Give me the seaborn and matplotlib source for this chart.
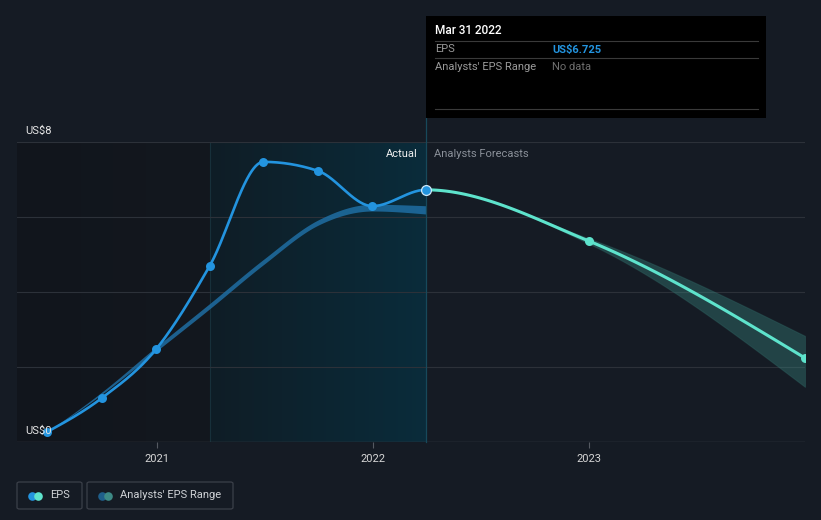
import numpy as np
import pandas as pd
import matplotlib
matplotlib.use("Agg")
import matplotlib.pyplot as plt
import matplotlib.dates as mdates
from matplotlib.colors import LinearSegmentedColormap
from matplotlib.patches import Rectangle, FancyBboxPatch
from matplotlib.lines import Line2D
import seaborn as sns

# ---------------- data ----------------
eps_dates = ["2020-06-30", "2020-09-30", "2020-12-31", "2021-03-31",
             "2021-06-30", "2021-09-30", "2021-12-31", "2022-03-31"]
eps_values = [0.27, 1.17, 2.48, 4.69, 7.47, 7.23, 6.29, 6.725]

past_range_dates = eps_dates
past_range_low = [0.265, 1.27, 2.42, 3.55, 4.73, 5.78, 6.16, 6.08]
past_range_high = [0.275, 1.33, 2.54, 3.69, 4.87, 5.92, 6.34, 6.30]

fc_dates = ["2022-03-31", "2022-12-31", "2023-12-31"]
fc_values = [6.725, 5.36, 2.24]
fc_low = [6.725, 5.29, 1.47]
fc_high = [6.725, 5.43, 2.83]

year_ticks = ["2021", "2022", "2023"]
y_labels = ["US$0", "US$8"]

BG = "#151b24"
BLUE = "#2394df"
TEAL = "#5ee3cc"

W, H = 821, 520


def fx(x):
    return x / W


def fy(y):
    return 1 - y / H


def monotone(xs, ys, n=60):
    x = np.asarray(xs, float)
    y = np.asarray(ys, float)
    h = np.diff(x)
    d = np.diff(y) / h
    m = np.zeros_like(y)
    for i in range(1, len(x) - 1):
        s0, s1 = d[i - 1], d[i]
        p = (s0 * h[i] + s1 * h[i - 1]) / (h[i - 1] + h[i])
        m[i] = (np.sign(s0) + np.sign(s1)) * min(abs(s0), abs(s1), 0.5 * abs(p))
    if len(x) > 2:
        m[0] = (3 * d[0] - m[1]) / 2
        m[-1] = (3 * d[-1] - m[-2]) / 2
    else:
        m[0] = m[-1] = d[0]
    outx, outy = [], []
    for i in range(len(x) - 1):
        t = np.linspace(0, 1, n)
        h00 = 2 * t**3 - 3 * t**2 + 1
        h10 = t**3 - 2 * t**2 + t
        h01 = -2 * t**3 + 3 * t**2
        h11 = t**3 - t**2
        yy = h00 * y[i] + h10 * h[i] * m[i] + h01 * y[i + 1] + h11 * h[i] * m[i + 1]
        xx = x[i] + t * h[i]
        if i > 0:
            xx, yy = xx[1:], yy[1:]
        outx.append(xx)
        outy.append(yy)
    return np.concatenate(outx), np.concatenate(outy)


def dn(lst):
    return mdates.date2num(pd.to_datetime(lst))


plt.rcParams["font.family"] = ["Roboto", "DejaVu Sans"]
fig = plt.figure(figsize=(W / 100, H / 100), dpi=100, facecolor=BG)
ax = fig.add_axes([fx(17), fy(442), fx(805) - fx(17), (442 - 142) / H])
ax.set_facecolor(BG)

x0 = mdates.date2num(pd.Timestamp("2020-05-10"))
x1 = mdates.date2num(pd.Timestamp("2023-12-31"))
xs_start = dn(["2021-03-31"])[0]
xs_now = dn(["2022-03-31"])[0]
ax.set_xlim(x0, x1)
ax.set_ylim(0, 8)

# background gradients
grad = np.linspace(0, 1, 256).reshape(1, -1)
cm_left = LinearSegmentedColormap.from_list("l", ["#11151c", "#13181f"])
cm_mid = LinearSegmentedColormap.from_list("m", ["#0f1d26", "#0a2c3b"])
ax.imshow(grad, extent=[x0, xs_start, 0, 8], aspect="auto", cmap=cm_left, zorder=0)
ax.imshow(grad, extent=[xs_start, xs_now, 0, 8], aspect="auto", cmap=cm_mid, zorder=0)
ax.axvline(xs_start, color="#17303a", lw=0.8, zorder=0.5)

# grid
for v in [2, 4, 6, 8]:
    ax.axhline(v, color="#2c3139", lw=0.8, zorder=1)
ax.axhline(0, color="#3d424a", lw=1.0, zorder=1)

# combined series (actual + forecast) so the curve is continuous at the join
all_dates = dn(eps_dates + fc_dates[1:])
all_vals = eps_values + fc_values[1:]
all_low = eps_values[:-1] + fc_low
all_high = eps_values[:-1] + fc_high

# past analyst range band
px, plo = monotone(dn(past_range_dates), past_range_low)
_, phi = monotone(dn(past_range_dates), past_range_high)
ax.fill_between(px, plo, phi, color="#1f6ea3", alpha=0.85, lw=0, zorder=2)

# forecast range band
bx, blo = monotone(all_dates, all_low)
_, bhi = monotone(all_dates, all_high)
mk = bx >= xs_now
ax.fill_between(bx[mk], blo[mk], bhi[mk], color="#3d8f88", alpha=0.35, lw=0.8,
                edgecolor="#2f6a66", zorder=2)

# now line
ax.axvline(xs_now, ymin=0, ymax=(442 - 118) / 300, color="#17495b", lw=0.9,
           zorder=2, clip_on=False)

# curves
cx, cy = monotone(all_dates, all_vals)
past = cx <= xs_now
fut = cx >= xs_now
sns.lineplot(x=cx[past], y=cy[past], ax=ax, color=BLUE, lw=1.9, sort=False,
             estimator=None, zorder=4)
sns.lineplot(x=cx[fut], y=cy[fut], ax=ax, color=TEAL, lw=2.2, sort=False,
             estimator=None, zorder=4)

sns.scatterplot(x=dn(eps_dates)[:-1], y=eps_values[:-1], ax=ax, color=BLUE,
                s=42, linewidth=0, zorder=5)
sns.scatterplot(x=dn(fc_dates)[1:], y=fc_values[1:], ax=ax, color=TEAL,
                s=42, linewidth=0, zorder=5)
sns.scatterplot(x=dn(fc_dates)[:1], y=fc_values[:1], ax=ax, color=BLUE,
                s=50, edgecolor="#cfe8f7", linewidth=0.9, zorder=6)

# axes styling
for s in ax.spines.values():
    s.set_visible(False)
ax.set_yticks([])
ax.set_xticks(dn([f"{y}-01-01" for y in year_ticks]))
ax.set_xticklabels(year_ticks, color="#d6d6d6", fontsize=8)
ax.tick_params(axis="x", length=4, width=0.8, color="#555a62", pad=5)
ax.set_xlabel("")
ax.set_ylabel("")

# y labels
fig.text(fx(25), fy(130.5), y_labels[1], color="#e6e6e6", fontsize=8, va="center")
fig.text(fx(25), fy(430.5), y_labels[0], color="#e6e6e6", fontsize=8, va="center", zorder=3)

# Actual / Forecast labels
fig.text(fx(418), fy(154), "Actual", color="#f0f0f0", fontsize=8, ha="right", va="center")
fig.text(fx(434), fy(154), "Analysts Forecasts", color="#8a9099", fontsize=8,
         ha="left", va="center")

# tooltip
fig.add_artist(Rectangle((fx(426), fy(118)), fx(766) - fx(426), (118 - 16) / H,
                         transform=fig.transFigure, facecolor="#000000",
                         edgecolor="none", zorder=10))
for yy in [41, 58, 109]:
    fig.add_artist(Line2D([fx(435), fx(758)], [fy(yy), fy(yy)],
                          transform=fig.transFigure, color="#3a3a3a", lw=0.8, zorder=11))
fig.text(fx(435), fy(31), "Mar 31 2022", color="#ffffff", fontsize=8.5,
         fontweight="medium", va="center", zorder=12)
fig.text(fx(435), fy(49.5), "EPS", color="#9a9a9a", fontsize=8, va="center", zorder=12)
fig.text(fx(552), fy(49.5), "US$6.725", color=BLUE, fontsize=8, fontweight="bold",
         va="center", zorder=12)
fig.text(fx(435), fy(66.5), "Analysts' EPS Range", color="#9a9a9a", fontsize=8,
         va="center", zorder=12)
fig.text(fx(552), fy(66.5), "No data", color="#6e6e6e", fontsize=8, va="center", zorder=12)

# legend
def legend_box(xl, xr, c1, c2, label, tx):
    fig.add_artist(FancyBboxPatch((fx(xl), fy(509)), fx(xr) - fx(xl), 27 / H,
                                  boxstyle="round,pad=0,rounding_size=0.003",
                                  transform=fig.transFigure, facecolor="none",
                                  edgecolor="#3b4049", lw=0.9))
    fig.add_artist(Line2D([fx(xl + 15)], [fy(495.5)], marker="o", ms=6.2, color=c1,
                          mew=0, transform=fig.transFigure))
    fig.add_artist(Line2D([fx(xl + 20.5)], [fy(495.5)], marker="o", ms=6.2, color=c2,
                          mew=0, transform=fig.transFigure))
    fig.text(fx(tx), fy(495.5), label, color="#cfd2d6", fontsize=8, va="center")


legend_box(17, 82, BLUE, TEAL, "EPS", 50)
legend_box(87, 233, "#1f5f8b", "#3d8a86", "Analysts' EPS Range", 120)

fig.savefig("out.png", dpi=100, facecolor=BG)
